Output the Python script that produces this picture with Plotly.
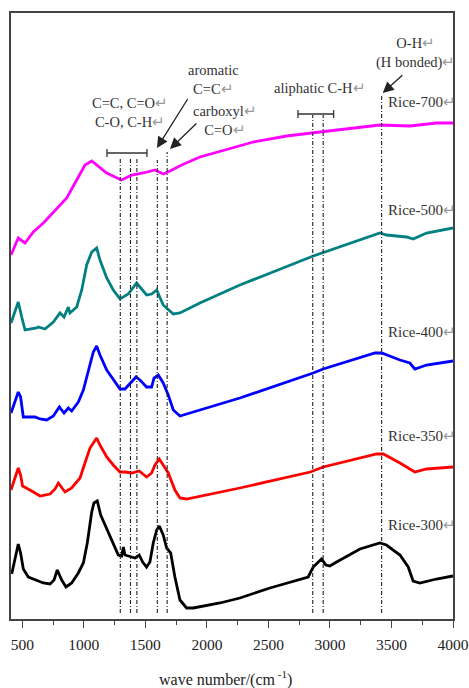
import plotly.graph_objects as go

# FTIR spectra of rice-husk chars (offset transmittance, a.u.)
wn_700 = [408, 467, 522, 589, 671, 752, 820, 861, 942, 1009, 1064, 1104, 1186, 1253, 1307,
          1389, 1483, 1578, 1645, 1700, 1795, 1943, 2052, 2147, 2376, 2648, 2918, 3054,
          3406, 3649, 3730, 3866, 4000]
t_700 = [364, 381, 376, 387, 396, 407, 416, 421, 439, 454, 458, 454, 446, 442, 439,
         444, 446, 449, 445, 448, 454, 462, 466, 469, 477, 483, 487, 489,
         494, 493, 494, 496, 496]

wn_500 = [408, 467, 495, 522, 617, 630, 684, 752, 806, 839, 874, 887, 942, 983, 1023, 1064,
          1104, 1131, 1186, 1239, 1294, 1361, 1429, 1510, 1551, 1592, 1645, 1727, 1781,
          1943, 2268, 2864, 3406, 3459, 3622, 3676, 3785, 4000]
t_500 = [296, 317, 302, 289, 291, 292, 290, 297, 306, 302, 312, 306, 312, 329, 354, 367,
         371, 359, 341, 329, 320, 325, 336, 324, 325, 329, 314, 305, 306,
         316, 334, 363, 386, 384, 382, 380, 386, 391]

wn_400 = [408, 467, 486, 508, 562, 603, 644, 698, 752, 801, 839, 874, 901, 955, 996, 1036,
          1077, 1104, 1131, 1186, 1239, 1294, 1334, 1389, 1424, 1456, 1510, 1551, 1570,
          1605, 1645, 1686, 1727, 1781, 1862, 2268, 2864, 2945, 3366, 3420, 3569, 3649,
          3690, 3785, 4000]
t_400 = [206, 227, 222, 202, 202, 202, 200, 199, 203, 212, 206, 211, 208, 217, 229, 249,
         267, 273, 264, 249, 239, 230, 230, 237, 242, 239, 232, 232, 241,
         244, 236, 224, 209, 203, 206, 221, 246, 250, 266, 266, 259, 256,
         250, 254, 258]

wn_350 = [408, 467, 486, 502, 562, 644, 725, 766, 793, 820, 847, 901, 969, 1009, 1050,
          1104, 1131, 1186, 1239, 1294, 1334, 1389, 1450, 1510, 1551, 1578, 1613, 1645,
          1686, 1740, 1781, 1835, 2268, 2840, 2945, 3380, 3434, 3569, 3690, 3785, 4000]
t_350 = [129, 151, 144, 133, 129, 123, 125, 130, 136, 131, 127, 131, 141, 156, 171,
         181, 174, 162, 154, 147, 147, 146, 148, 142, 146, 154, 160, 154,
         146, 129, 121, 120, 131, 147, 152, 165, 165, 156, 147, 150, 152]

wn_300 = [414, 441, 467, 486, 508, 549, 617, 671, 725, 758, 784, 820, 855, 901, 955, 996,
          1028, 1064, 1082, 1109, 1137, 1172, 1213, 1253, 1280, 1307, 1321, 1334, 1389,
          1416, 1450, 1478, 1510, 1537, 1564, 1592, 1613, 1645, 1673, 1706, 1740, 1781,
          1835, 1889, 2106, 2268, 2512, 2823, 2864, 2904, 2932, 2967, 2999, 3054, 3244,
          3406, 3459, 3569, 3636, 3676, 3730, 3866, 4000]
t_300 = [45, 62, 75, 66, 50, 42, 39, 36, 35, 39, 49, 39, 32, 36, 46, 56,
         76, 107, 116, 118, 104, 94, 84, 71, 64, 63, 72, 64, 62,
         61, 64, 57, 52, 57, 76, 89, 93, 84, 71, 66, 42, 19,
         11, 11, 16, 21, 31, 42, 52, 57, 60, 54, 53, 57, 70,
         76, 74, 64, 52, 38, 36, 40, 43]

samples = ["Rice-700", "Rice-500", "Rice-400", "Rice-350", "Rice-300"]
colors = ["#FF00FF", "#008080", "#0000FF", "#FF0000", "#000000"]
series = [(wn_700, t_700), (wn_500, t_500), (wn_400, t_400), (wn_350, t_350), (wn_300, t_300)]
label_y = [517, 409, 287, 183, 94]

# characteristic band positions (cm-1) and the height each guide line starts at
band_wn = [1296, 1379, 1431, 1597, 1677, 2860, 2945, 3420]
band_top = [462, 462, 462, 459, 467, 504, 504, 524]

SERIF = "Liberation Serif, Times New Roman, serif"
RET = "<span style='color:#9a9a9a'>\u21b5</span>"

fig = go.Figure()

for w, top in zip(band_wn, band_top):
    fig.add_shape(type="line", x0=w, x1=w, y0=6, y1=top, xref="x", yref="y",
                  line=dict(color="#222222", width=1.1, dash="4px,2px,1px,2px"))

for name, col, (w, t) in zip(samples, colors, series):
    fig.add_trace(go.Scatter(x=w, y=t, mode="lines", name=name,
                             line=dict(color=col, width=2.8), showlegend=False))

for name, y in zip(samples, label_y):
    fig.add_annotation(x=3454, y=y, xref="x", yref="y", text=name + RET, showarrow=False,
                       xanchor="left", yanchor="middle",
                       font=dict(family=SERIF, size=15, color="#333333"))

# assignment brackets
for x0, x1, y in [(1188, 1513, 466), (2740, 3030, 505)]:
    fig.add_shape(type="line", x0=x0, x1=x1, y0=y, y1=y, xref="x", yref="y",
                  line=dict(color="#333333", width=1.3))
    for xe in (x0, x1):
        fig.add_shape(type="line", x0=xe, x1=xe, y0=y - 4, y1=y + 4, xref="x", yref="y",
                      line=dict(color="#333333", width=1.3))

text_font = dict(family=SERIF, size=14.5, color="#333333")
fig.add_annotation(x=1375, y=507, text="C=C, C=O" + RET + "<br>C-O, C-H" + RET,
                   showarrow=False, font=text_font, align="center")
fig.add_annotation(x=2057, y=540, text="aromatic<br>C=C" + RET,
                   showarrow=False, font=text_font, align="center")
fig.add_annotation(x=2151, y=499, text="carboxyl" + RET + "<br>C=O" + RET,
                   showarrow=False, font=text_font, align="center")
fig.add_annotation(x=2918, y=531, text="aliphatic C-H" + RET,
                   showarrow=False, font=text_font, align="center")
fig.add_annotation(x=3694, y=566, text="O-H" + RET + "<br>(H bonded)" + RET,
                   showarrow=False, font=text_font, align="center")

# pointer arrows (line + filled head)
for (hx, hy), (tx, ty) in [((1594, 471), (1854, 522)),
                           ((1700, 470), (1927, 497)),
                           ((3429, 526), (3600, 545))]:
    fig.add_annotation(x=hx, y=hy, ax=tx, ay=ty, xref="x", yref="y", axref="x", ayref="y",
                       text=" ", showarrow=True, arrowhead=2, arrowsize=1.7,
                       arrowwidth=1.3, arrowcolor="#222222", font=dict(size=1))

# axis title
fig.add_annotation(x=0.486, y=0, xref="paper", yref="paper", yshift=-59,
                   text="wave number/(cm<sup> -1</sup>)", showarrow=False,
                   xanchor="center", yanchor="middle",
                   font=dict(family=SERIF, size=16, color="#222222"))

fig.update_layout(
    width=469, height=688,
    margin=dict(l=11, r=16, t=13, b=69),
    paper_bgcolor="white", plot_bgcolor="white",
    font=dict(family=SERIF, color="#222222"),
)
fig.update_xaxes(
    range=[408, 4000], showgrid=False, zeroline=False, automargin=False,
    showline=True, mirror=True, linecolor="#444444", linewidth=1.5,
    tickmode="array", tickvals=[500, 1000, 1500, 2000, 2500, 3000, 3500, 4000],
    ticks="outside", ticklen=7, tickwidth=1.2, tickcolor="#444444",
    ticklabelstandoff=4,
    tickfont=dict(family=SERIF, size=15.5, color="#222222"),
    minor=dict(tickvals=[750, 1250, 1750, 2250, 2750, 3250, 3750], ticks="outside",
               ticklen=4, tickwidth=1.2, tickcolor="#444444"),
)
fig.update_yaxes(
    range=[0, 606], showgrid=False, zeroline=False, showticklabels=False, ticks="",
    automargin=False,
    showline=True, mirror=True, linecolor="#444444", linewidth=1.5,
)

fig.write_html("out.html")
